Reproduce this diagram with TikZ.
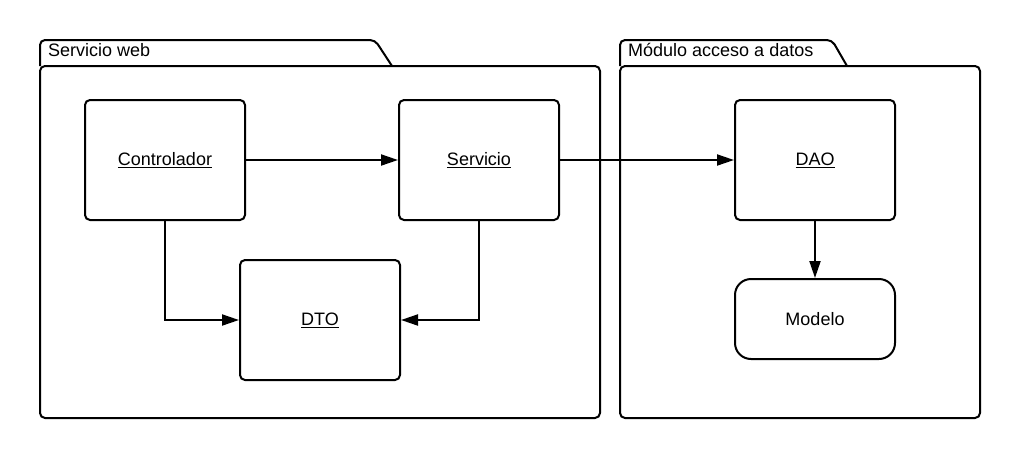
\documentclass[tikz,border=0pt]{standalone}
\usepackage{fontspec}
\setmainfont{Liberation Sans}
\usetikzlibrary{positioning,arrows.meta}

\begin{document}
\begin{tikzpicture}[x=1pt,y=-1pt,font=\fontsize{18}{22}\selectfont,%
		   clase/.style={draw,line width=2pt,rounded corners=5pt,minimum width=160pt,minimum height=120pt},
		   entidad/.style={draw,line width=2pt,rounded corners=16pt,minimum width=160pt,minimum height=80pt},
		   paquete/.style={draw,line width=2pt,rounded corners=5pt},
		   etiqueta/.style={anchor=west,inner sep=0pt},
		   flecha/.style={-{Triangle[length=17pt,width=11pt]},line width=2pt}]
	\useasboundingbox (0,0) rectangle (1020,458);

	% paquetes
	\draw[paquete] (40,66) -- (40,40) -- (375,40) [sharp corners] -- (392,66);
	\draw[paquete] (40,66) rectangle (600,418);
	\node[etiqueta] (web) at (48,50) {Servicio web};
	\draw[paquete] (620,66) -- (620,40) -- (832,40) [sharp corners] -- (847,66);
	\draw[paquete] (620,66) rectangle (980,418);
	\node[etiqueta] (datos) at (628,50) {Módulo acceso a datos};

	% clases
	\node[clase] (ctrl) at (165,160) {\underline{Controlador}};
	\node[clase,right=152pt of ctrl] (serv) {\underline{Servicio}};
	\node[clase] (dto) at (320,320) {\underline{DTO}};
	\node[clase] (dao) at (815,160) {\underline{DAO}};
	\node[entidad,below=57pt of dao] (modelo) {Modelo};

	\draw[flecha] (ctrl) -- (serv);
	\draw[flecha] (serv) -- (dao);
	\draw[flecha] (dao) -- (modelo);
	\draw[flecha] (ctrl.south) |- (dto.west);
	\draw[flecha] (serv.south) |- (dto.east);
\end{tikzpicture}
\end{document}
